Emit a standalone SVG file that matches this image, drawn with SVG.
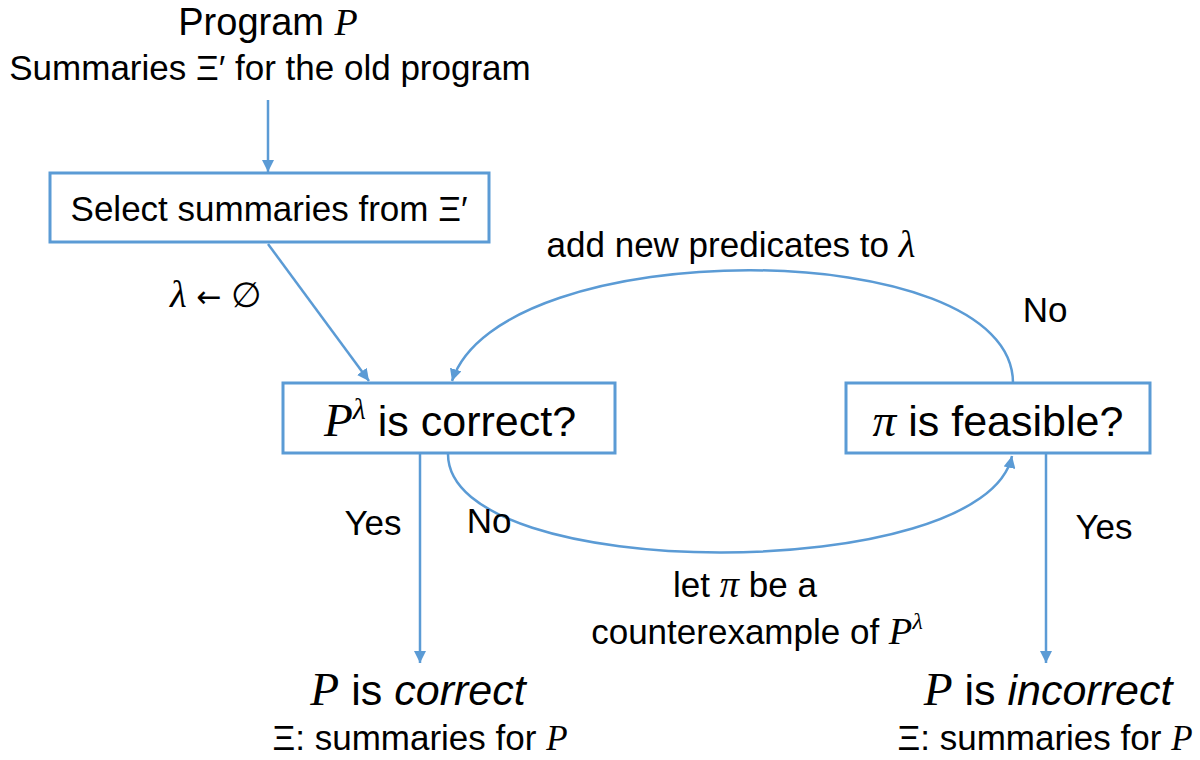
<svg xmlns="http://www.w3.org/2000/svg" width="1200" height="760" viewBox="0 0 1200 760">
<defs>
<marker id="ah" markerUnits="userSpaceOnUse" markerWidth="14" markerHeight="12" refX="12" refY="6" orient="auto">
<path d="M0,0 L12,6 L0,12 Z" fill="#5B9BD5"/>
</marker>
<style>
.box{fill:#fff;stroke:#5B9BD5;stroke-width:3}
.ln{fill:none;stroke:#5B9BD5;stroke-width:2.5;marker-end:url(#ah)}
text{font-family:"Liberation Sans",Arial,sans-serif;fill:#000}
.m{font-family:"Liberation Serif","Times New Roman",serif;font-style:italic;font-size:1.1em}
.m1{font-family:"Liberation Serif","Times New Roman",serif;font-style:italic}
.sym{font-family:"DejaVu Sans",sans-serif;font-size:30px}
.it{font-style:italic}
.s35{font-size:35px}
.s43{font-size:43px}
</style>
</defs>
<rect width="1200" height="760" fill="#fff"/>
<g id="connectors">
<path class="ln" d="M268,100 L268,172"/>
<path class="ln" d="M268,244 L369,381"/>
<path class="ln" d="M1013,383 C1013,233 500,233 452,381"/>
<path class="ln" d="M448,454 C448,585 985,585 1012,456"/>
<path class="ln" d="M420,454 L420,663"/>
<path class="ln" d="M1046,454 L1046,663"/>
</g>
<g id="input">
<text x="268" y="35" text-anchor="middle" style="font-size:38px">Program <tspan class="m1">P</tspan></text>
<text x="270" y="80" text-anchor="middle" class="s35">Summaries Ξ′ for the old program</text>
</g>
<g id="select">
<rect class="box" x="50" y="173" width="439" height="69"/>
<text x="269" y="221" text-anchor="middle" class="s35">Select summaries from Ξ′</text>
</g>
<g id="init-label">
<text x="170" y="307" class="s35"><tspan class="m">λ</tspan> <tspan class="sym">←</tspan> ∅</text>
</g>
<g id="check">
<rect class="box" x="283" y="383" width="332" height="70"/>
<text x="450" y="436" text-anchor="middle" class="s43"><tspan class="m">P</tspan><tspan class="m" style="font-size:30px" dy="-17">λ</tspan><tspan dy="17"> is correct?</tspan></text>
</g>
<g id="feasible">
<rect class="box" x="846" y="383" width="304" height="70"/>
<text x="998" y="436" text-anchor="middle" class="s43"><tspan class="m">π</tspan> is feasible?</text>
</g>
<g id="edge-labels">
<text x="731" y="257" text-anchor="middle" class="s35">add new predicates to <tspan class="m">λ</tspan></text>
<text x="1045" y="322" text-anchor="middle" class="s35">No</text>
<text x="373" y="535" text-anchor="middle" class="s35">Yes</text>
<text x="489" y="533" text-anchor="middle" class="s35">No</text>
<text x="1104" y="539" text-anchor="middle" class="s35">Yes</text>
<text x="745" y="597" text-anchor="middle" class="s35">let <tspan class="m">π</tspan> be a</text>
<text x="757" y="644" text-anchor="middle" class="s35">counterexample of <tspan class="m">P</tspan><tspan class="m" style="font-size:24px" dy="-15">λ</tspan></text>
</g>
<g id="correct">
<text x="418" y="705" text-anchor="middle" class="s43"><tspan class="m">P</tspan> is <tspan class="it">correct</tspan></text>
<text x="420" y="750" text-anchor="middle" class="s35">Ξ: summaries for <tspan class="m1">P</tspan></text>
</g>
<g id="incorrect">
<text x="1048" y="705" text-anchor="middle" class="s43"><tspan class="m">P</tspan> is <tspan class="it">incorrect</tspan></text>
<text x="1045" y="750" text-anchor="middle" class="s35">Ξ: summaries for <tspan class="m1">P</tspan></text>
</g>
</svg>
